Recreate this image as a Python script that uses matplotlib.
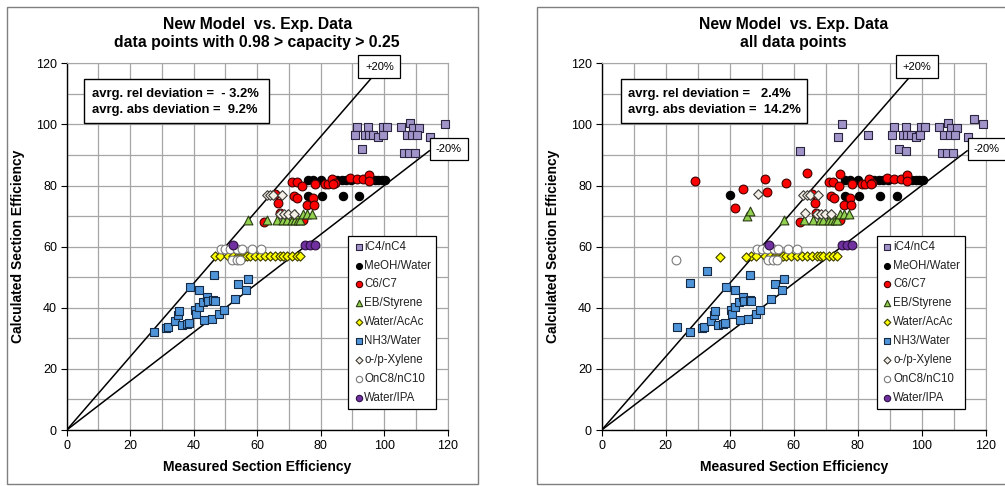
import matplotlib
matplotlib.use("Agg")
import matplotlib.pyplot as plt
from matplotlib.patches import Rectangle

plt.rcParams['font.family'] = ['Liberation Sans', 'DejaVu Sans']

# ---------------- data (left chart = filtered subset; right = subset + extras) -------------
series_names = ["iC4/nC4", "MeOH/Water", "C6/C7", "EB/Styrene", "Water/AcAc",
                "NH3/Water", "o-/p-Xylene", "OnC8/nC10", "Water/IPA"]

ic4_x = [91.3, 95.0, 99.7, 101.0, 105.3, 108.1, 109.0, 111.0, 119.1,
         90.8, 94.0, 95.3, 96.6, 98.1, 99.5, 107.1, 108.7, 110.4, 114.4,
         92.9, 106.2, 107.9, 109.7]
ic4_y = [99.3, 99.3, 99.3, 99.3, 99.3, 100.4, 98.8, 98.8, 100.1,
         96.6, 96.6, 96.6, 96.6, 95.8, 96.6, 96.6, 96.6, 96.6, 95.8,
         92.0, 90.7, 90.7, 90.7]
ic4_x_extra = [75.1, 73.8, 83.2, 61.9, 116.3, 95.0]
ic4_y_extra = [100.2, 96.0, 96.7, 91.4, 101.8, 91.2]

meoh_x = [76.0, 77.7, 80.0, 85.0, 86.6, 88.0, 89.5, 95.5, 97.0, 98.1, 99.2, 100.3,
          76.1, 80.5, 87.0, 92.2]
meoh_y = [81.7, 81.7, 81.7, 81.7, 81.7, 81.7, 81.7, 81.7, 81.7, 81.7, 81.7, 81.7,
          76.7, 76.7, 76.7, 76.7]
meoh_x_extra = [40.2]
meoh_y_extra = [76.9]

c6_x = [70.9, 72.4, 74.0, 78.2, 81.4, 82.4, 83.5, 84.5, 84.0, 89.2, 91.3, 93.4, 95.3, 95.3,
        71.5, 72.6, 77.7, 75.6, 77.9, 66.6, 65.6, 67.1, 62.1, 74.5]
c6_y = [81.2, 81.2, 79.8, 80.6, 80.6, 80.6, 82.2, 80.9, 80.4, 82.5, 82.3, 82.0, 83.4, 81.4,
        76.5, 76.0, 76.0, 73.6, 73.6, 74.4, 77.1, 70.9, 68.2, 68.6]
c6_x_extra = [29.1, 44.3, 51.1, 51.7, 57.7, 41.5, 64.2, 74.4]
c6_y_extra = [81.6, 79.0, 82.0, 77.9, 80.9, 72.5, 84.0, 83.8]

eb_x = [57.0, 63.2, 66.1, 68.2, 69.3, 70.9, 71.9, 72.9, 73.5, 74.5, 75.6, 77.3, 71.8]
eb_y = [68.6, 68.6, 68.6, 68.6, 68.6, 68.6, 68.6, 68.6, 68.8, 70.8, 70.8, 70.8, 70.6]
eb_x_extra = [45.3, 46.2]
eb_y_extra = [70.0, 71.8]

acac_x = [46.7, 48.2, 50.9, 52.5, 54.0, 54.5, 55.0, 55.6, 56.2, 56.8, 57.7, 59.3, 60.9,
          62.5, 64.0, 65.6, 67.2, 68.2, 69.3, 70.9, 72.4, 73.5]
acac_y = [56.8] * 22
acac_x_extra = [37.0, 45.1]
acac_y_extra = [56.7, 56.7]

nh3_x = [27.6, 31.3, 32.0, 34.1, 35.2, 35.5, 36.2, 37.8, 38.6, 38.8, 40.4, 40.7, 41.8, 41.8,
         42.8, 43.3, 44.1, 44.6, 45.7, 46.2, 46.4, 46.7, 48.1, 49.6, 53.0, 54.0, 56.4, 57.0]
nh3_y = [32.0, 33.3, 33.7, 35.8, 37.5, 39.1, 34.2, 34.8, 35.0, 46.7, 39.3, 38.0, 40.2, 45.8,
         41.8, 36.1, 43.6, 42.1, 36.4, 42.6, 50.8, 42.1, 38.0, 39.4, 42.9, 47.8, 45.8, 49.4]
nh3_x_extra = [23.4, 27.6, 33.0]
nh3_y_extra = [33.8, 48.2, 52.1]

xyl_x = [63.0, 64.0, 65.1, 67.7, 67.2, 68.5, 69.8, 71.6]
xyl_y = [76.9, 76.9, 76.9, 76.9, 70.8, 70.8, 70.8, 70.8]
xyl_x_extra = [48.7, 63.5]
xyl_y_extra = [77.3, 71.0]

nc8_x = [48.5, 50.0, 51.5, 53.7, 55.2, 58.3, 61.1, 52.0, 53.5, 54.7]
nc8_y = [59.1, 59.1, 59.1, 59.1, 59.1, 59.1, 59.1, 55.6, 55.6, 55.6]
nc8_x_extra = [23.1]
nc8_y_extra = [55.7]

ipa_x = [52.3, 75.1, 76.6, 78.2]
ipa_y = [60.6, 60.6, 60.6, 60.6]

titles = ["New Model  vs. Exp. Data\ndata points with 0.98 > capacity > 0.25",
          "New Model  vs. Exp. Data\nall data points"]
dev_texts = ["avrg. rel deviation =  - 3.2%\navrg. abs deviation =  9.2%",
             "avrg. rel deviation =   2.4%\navrg. abs deviation =  14.2%"]
x_ticks = [0, 20, 40, 60, 80, 100, 120]
y_ticks = [0, 20, 40, 60, 80, 100, 120]

# ---------------- styles ----------------
styles = [
    dict(marker='s', fc='#a194c9', ec='#2b2540', s=28),
    dict(marker='o', fc='#000000', ec='#000000', s=36),
    dict(marker='o', fc='#ff0000', ec='#400000', s=40),
    dict(marker='^', fc='#92d050', ec='#2a3d12', s=40),
    dict(marker='D', fc='#ffff00', ec='#3d3d00', s=22),
    dict(marker='s', fc='#4f94d9', ec='#152a45', s=30),
    dict(marker='D', fc='#f3efe6', ec='#3c3a35', s=24),
    dict(marker='o', fc='#ffffff', ec='#7a7a7a', s=40),
    dict(marker='o', fc='#7030a0', ec='#2a0f40', s=40),
]

W, H = 1005, 486
fig = plt.figure(figsize=(W / 100, H / 100), dpi=100)
fig.patch.set_facecolor('white')

# panel frames
for (x0, x1) in [(7, 478), (537, 1010)]:
    fig.patches.append(Rectangle((x0 / W, 2 / H), (x1 - x0) / W, (479 - 2) / H,
                                 transform=fig.transFigure, fill=False,
                                 ec='#7f7f7f', lw=1.0))

axes_px = [(66.7, 447.7), (601.7, 985.7)]
top_px, bot_px = 63.3, 430.0

left_sets = [(ic4_x, ic4_y), (meoh_x, meoh_y), (c6_x, c6_y), (eb_x, eb_y), (acac_x, acac_y),
             (nh3_x, nh3_y), (xyl_x, xyl_y), (nc8_x, nc8_y), (ipa_x, ipa_y)]
extras = [(ic4_x_extra, ic4_y_extra), (meoh_x_extra, meoh_y_extra), (c6_x_extra, c6_y_extra),
          (eb_x_extra, eb_y_extra), (acac_x_extra, acac_y_extra), (nh3_x_extra, nh3_y_extra),
          (xyl_x_extra, xyl_y_extra), (nc8_x_extra, nc8_y_extra), ([], [])]

for k in range(2):
    xl, xr = axes_px[k]
    ax = fig.add_axes([xl / W, (H - bot_px) / H, (xr - xl) / W, (bot_px - top_px) / H])
    ax.set_xlim(0, 120)
    ax.set_ylim(0, 120)
    ax.set_xticks(x_ticks)
    ax.set_yticks(y_ticks)
    ax.set_xticks(range(0, 121, 10), minor=True)
    ax.set_yticks(range(0, 121, 10), minor=True)
    ax.grid(True, which='both', color='#a6a6a6', lw=0.9)
    ax.set_axisbelow(True)
    ax.tick_params(which='major', direction='out', length=4, width=0.8, labelsize=9,
                   colors='#000000', pad=3)
    ax.tick_params(which='minor', length=0)
    for sp in ['top', 'right']:
        ax.spines[sp].set_color('#a6a6a6')
    for sp in ['left', 'bottom']:
        ax.spines[sp].set_color('#000000')
        ax.spines[sp].set_linewidth(1.0)

    # +/-20% lines
    ax.plot([0, 96.3], [0, 96.3 * 1.2], color='black', lw=1.1, zorder=2)
    ax.plot([0, 114.2], [0, 114.2 * 0.8], color='black', lw=1.1, zorder=2)

    for i, (name, st) in enumerate(zip(series_names, styles)):
        xs = list(left_sets[i][0])
        ys = list(left_sets[i][1])
        if k == 1:
            xs += extras[i][0]
            ys += extras[i][1]
        ax.scatter(xs, ys, marker=st['marker'], s=st['s'], facecolor=st['fc'],
                   edgecolor=st['ec'], linewidths=0.8, zorder=3 + i * 0.01,
                   label=name, clip_on=False)

    leg = ax.legend(loc='upper left', bbox_to_anchor=((348.3 - xl) / (xr - xl) if k == 0 else (877 - xl) / (xr - xl),
                                                     (bot_px - 236) / (bot_px - top_px)),
                    frameon=True, fancybox=False, edgecolor='#000000', framealpha=1,
                    fontsize=8.3, markerscale=0.72, handletextpad=0.0, handlelength=1.0,
                    labelspacing=0.6, borderpad=0.4, borderaxespad=0)
    leg.get_frame().set_linewidth(0.9)
    for t in leg.get_texts():
        t.set_color('#222222')

    # deviation box
    ax.add_patch(Rectangle((5.3 if k == 0 else 5.9, 100.6), 58.4, 14.1, fc='white',
                           ec='black', lw=1.0, zorder=5))
    ax.text(7.9 if k == 0 else 8.3, 107.4, dev_texts[k], fontsize=9.4, fontweight='bold',
            va='center', ha='left', zorder=6, linespacing=1.4)

    # +20% / -20% labels
    ax.text(98.5, 118.9, '+20%', fontsize=8, ha='center', va='center', zorder=7,
            clip_on=False,
            bbox=dict(boxstyle='square,pad=0.6', fc='white', ec='black', lw=0.9))
    ax.text(120.3, 92.0, '-20%', fontsize=8, ha='center', va='center', zorder=7,
            clip_on=False,
            bbox=dict(boxstyle='square,pad=0.55', fc='white', ec='black', lw=0.9))

    ax.set_xlabel('Measured Section Efficiency', fontsize=10, fontweight='bold', labelpad=6)
    ax.set_ylabel('Calculated Section Efficiency', fontsize=10, fontweight='bold', labelpad=8)
    ax.set_title(titles[k], fontsize=11.3, fontweight='bold', pad=12, linespacing=1.2)

fig.savefig('out.png', dpi=100, facecolor='white')
